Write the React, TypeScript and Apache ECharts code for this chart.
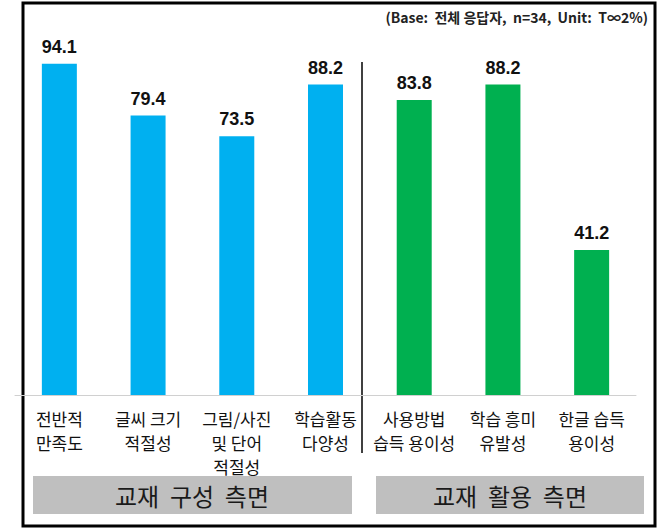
import React, { useEffect, useRef } from "react";
import * as echarts from "echarts";

const categories = [
  "전반적\n만족도",
  "글씨 크기\n적절성",
  "그림/사진\n및 단어\n적절성",
  "학습활동\n다양성",
  "사용방법\n습득 용이성",
  "학습 흥미\n유발성",
  "한글 습득\n용이성",
];
const values = [94.1, 79.4, 73.5, 88.2, 83.8, 88.2, 41.2];
const groups = ["구성", "구성", "구성", "구성", "활용", "활용", "활용"];
const groupLabels = ["교재  구성  측면", "교재  활용  측면"];
const note = "(Base:  전체 응답자,  n=34,  Unit:  T∞2%)";

const KR = "'Noto Sans CJK KR', 'Noto Sans', sans-serif";
const NUM = "'Liberation Sans', Arial, sans-serif";

export default function App() {
  const ref = useRef<HTMLDivElement>(null);
  useEffect(() => {
    document.body.style.margin = "0";
    const chart = echarts.init(ref.current!, null, { renderer: "svg" });
    chart.setOption({
      animation: false,
      backgroundColor: "#ffffff",
      grid: { left: 15, right: 24, top: 43, bottom: 135 },
      xAxis: {
        type: "category",
        data: categories,
        axisLine: { lineStyle: { color: "#d0d0d0", width: 1 } },
        axisTick: { show: false },
        axisLabel: {
          interval: 0,
          fontFamily: KR,
          fontSize: 17,
          lineHeight: 24,
          color: "#111",
          margin: 11,
        },
      },
      yAxis: { type: "value", min: 0, max: 100, show: false },
      series: [
        {
          type: "bar",
          barWidth: 35,
          data: values.map((v, i) => ({
            value: v,
            itemStyle: { color: groups[i] === "구성" ? "#00b0f0" : "#00b050" },
          })),
          label: {
            show: true,
            position: "top",
            distance: 8,
            fontFamily: NUM,
            fontWeight: "bold",
            fontSize: 18,
            color: "#111",
            formatter: (p: any) => p.value.toFixed(1),
          },
        },
      ],
      graphic: [
        {
          type: "rect",
          shape: { x: 23, y: 3, width: 632, height: 523 },
          style: { fill: "none", stroke: "#000", lineWidth: 3 },
        },
        {
          type: "line",
          shape: { x1: 362, y1: 62, x2: 362, y2: 453 },
          style: { stroke: "#404040", lineWidth: 2 },
        },
        {
          type: "text",
          right: 12,
          top: 10,
          style: {
            text: note,
            fontFamily: KR,
            fontSize: 14,
            fontWeight: "bold",
            fill: "#222",
          },
        },
        {
          type: "rect",
          shape: { x: 33, y: 476, width: 319, height: 38 },
          style: { fill: "#bfbfbf" },
        },
        {
          type: "rect",
          shape: { x: 376, y: 476, width: 268, height: 38 },
          style: { fill: "#bfbfbf" },
        },
        {
          type: "text",
          x: 192,
          y: 495,
          style: {
            text: groupLabels[0],
            fontFamily: KR,
            fontSize: 24,
            fill: "#1a1a1a",
            align: "center",
            verticalAlign: "middle",
          },
        },
        {
          type: "text",
          x: 510,
          y: 495,
          style: {
            text: groupLabels[1],
            fontFamily: KR,
            fontSize: 24,
            fill: "#1a1a1a",
            align: "center",
            verticalAlign: "middle",
          },
        },
      ],
    });
    return () => chart.dispose();
  }, []);
  return <div ref={ref} style={{ width: 660, height: 530 }} />;
}
